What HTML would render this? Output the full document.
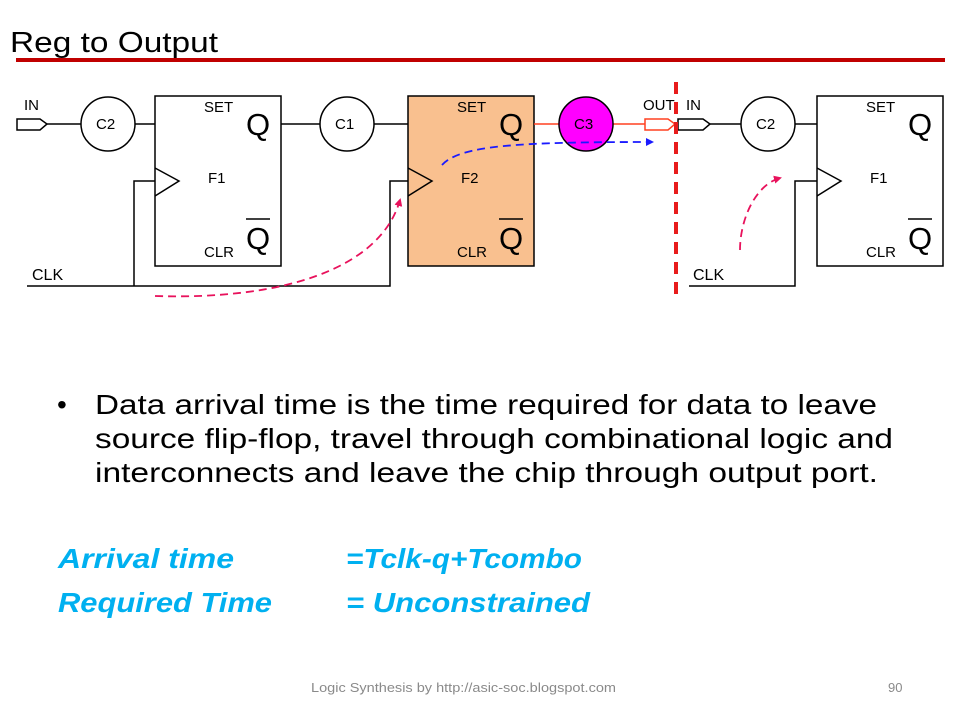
<!DOCTYPE html>
<html><head><meta charset="utf-8"><style>
html,body{margin:0;padding:0;background:#fff;}
svg{display:block;}
text{font-family:"Liberation Sans",sans-serif;}
</style></head><body>
<svg width="960" height="720" viewBox="0 0 960 720" xmlns="http://www.w3.org/2000/svg">
<defs>
<marker id="ab" markerWidth="8" markerHeight="8" refX="6" refY="4" orient="auto" markerUnits="userSpaceOnUse"><path d="M0,0 L8,4 L0,8 z" fill="#1a1aff"/></marker>
<marker id="ap" markerWidth="8" markerHeight="8" refX="6" refY="4" orient="auto" markerUnits="userSpaceOnUse"><path d="M0,0 L8,4 L0,8 z" fill="#e8125c"/></marker>
</defs>
<text x="10" y="52" font-size="29" fill="#000" textLength="208" lengthAdjust="spacingAndGlyphs">Reg to Output</text>
<rect x="16" y="58" width="929" height="4" fill="#c00000"/>

<g stroke="#000" stroke-width="1.5" fill="none">
<path d="M17,119 L40,119 L47,124 L40,130 L17,130 z"/>
<line x1="47" y1="124" x2="81" y2="124"/>
<circle cx="108" cy="124" r="27" fill="#fff"/>
<line x1="135" y1="124" x2="155" y2="124"/>
<rect x="155" y="96" width="126" height="170" fill="#fff"/>
<path d="M155,168 L179,181 L155,196"/>
<line x1="281" y1="124" x2="320" y2="124"/>
<circle cx="347" cy="124" r="27" fill="#fff"/>
<line x1="374" y1="124" x2="408" y2="124"/>
<rect x="408" y="96" width="126" height="170" fill="#f9c08f"/>
<path d="M408,168 L432,181 L408,196"/>
<path d="M27,286 L390,286 L390,181 L408,181"/>
<path d="M134,286 L134,181 L155,181"/>
<path d="M678,119 L703,119 L710,124 L703,130 L678,130 z"/>
<line x1="710" y1="124" x2="741" y2="124"/>
<circle cx="768" cy="124" r="27" fill="#fff"/>
<line x1="795" y1="124" x2="817" y2="124"/>
<rect x="817" y="96" width="126" height="170" fill="#fff"/>
<path d="M817,168 L841,181 L817,196"/>
<path d="M689,286 L795,286 L795,181 L817,181"/>
</g>
<g stroke="#ff4020" stroke-width="1.5" fill="none">
<line x1="534" y1="124" x2="559" y2="124"/>
<line x1="613" y1="124" x2="645" y2="124"/>
<path d="M645,119 L668,119 L675,124 L668,130 L645,130 z"/>
</g>
<circle cx="586" cy="124" r="27" fill="#ff00ff" stroke="#000" stroke-width="1.5"/>
<line x1="676" y1="82" x2="676" y2="296" stroke="#e81c1c" stroke-width="4" stroke-dasharray="12,8"/>

<path d="M442,165 C460,145 520,142 652,142" stroke="#1a1aff" stroke-width="1.8" fill="none" stroke-dasharray="8,5" marker-end="url(#ab)"/>
<path d="M155,296 C280,300 380,270 400,200" stroke="#e8125c" stroke-width="1.8" fill="none" stroke-dasharray="8,5" marker-end="url(#ap)"/>
<path d="M740,250 C740,220 755,185 780,178" stroke="#e8125c" stroke-width="1.8" fill="none" stroke-dasharray="8,5" marker-end="url(#ap)"/>

<g font-size="15" fill="#000">
<text x="24" y="110">IN</text>
<text x="96" y="129">C2</text>
<text x="204" y="112">SET</text>
<text x="208" y="183">F1</text>
<text x="204" y="257">CLR</text>
<text x="335" y="129">C1</text>
<text x="457" y="112">SET</text>
<text x="461" y="183">F2</text>
<text x="457" y="257">CLR</text>
<text x="574" y="129">C3</text>
<text x="643" y="110">OUT</text>
<text x="686" y="110">IN</text>
<text x="756" y="129">C2</text>
<text x="866" y="112">SET</text>
<text x="870" y="183">F1</text>
<text x="866" y="257">CLR</text>
<text x="32" y="280" font-size="16">CLK</text>
<text x="693" y="280" font-size="16">CLK</text>
</g>
<g font-size="31" fill="#000">
<text x="246" y="135">Q</text><text x="246" y="249">Q</text><line x1="246" y1="219" x2="270" y2="219" stroke="#000" stroke-width="1.5"/>
<text x="499" y="135">Q</text><text x="499" y="249">Q</text><line x1="499" y1="219" x2="523" y2="219" stroke="#000" stroke-width="1.5"/>
<text x="908" y="135">Q</text><text x="908" y="249">Q</text><line x1="908" y1="219" x2="932" y2="219" stroke="#000" stroke-width="1.5"/>
</g>

<g font-size="28" fill="#000">
<text x="57" y="414">•</text>
<text x="95" y="414" textLength="782" lengthAdjust="spacingAndGlyphs">Data arrival time is the time required for data to leave</text>
<text x="95" y="448" textLength="798" lengthAdjust="spacingAndGlyphs">source flip-flop, travel through combinational logic and</text>
<text x="95" y="482" textLength="783" lengthAdjust="spacingAndGlyphs">interconnects and leave the chip through output port.</text>
</g>
<g font-size="28" fill="#00b0f0" font-weight="bold" font-style="italic">
<text x="58" y="568" textLength="176" lengthAdjust="spacingAndGlyphs">Arrival time</text>
<text x="346" y="568" textLength="236" lengthAdjust="spacingAndGlyphs">=Tclk-q+Tcombo</text>
<text x="58" y="612" textLength="214" lengthAdjust="spacingAndGlyphs">Required Time</text>
<text x="346" y="612" textLength="244" lengthAdjust="spacingAndGlyphs">= Unconstrained</text>
</g>
<text x="311" y="692" font-size="13" fill="#8a8a8a" textLength="305" lengthAdjust="spacingAndGlyphs">Logic Synthesis by http://asic-soc.blogspot.com</text>
<text x="888" y="692" font-size="13" fill="#8a8a8a">90</text>
</svg>
</body></html>
